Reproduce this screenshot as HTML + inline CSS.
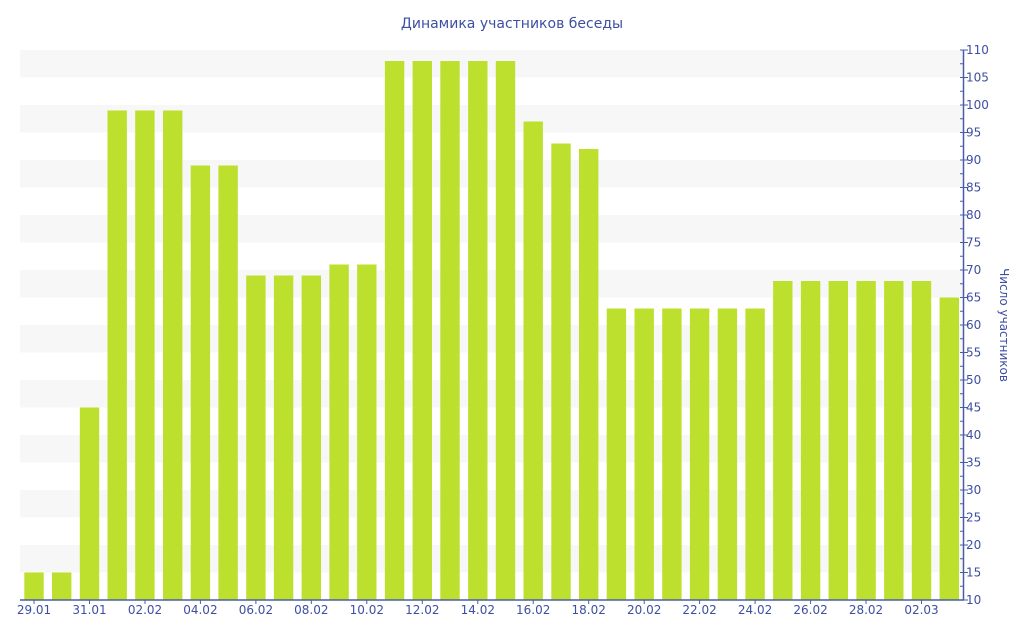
<!DOCTYPE html>
<html><head><meta charset="utf-8"><style>
body{margin:0;background:#fff}
svg{display:block;font-family:"DejaVu Sans","Liberation Sans",sans-serif}
</style></head><body>
<svg width="1024" height="640" viewBox="0 0 1024 640" xmlns="http://www.w3.org/2000/svg">
<text x="512" y="28" text-anchor="middle" font-size="14" fill="#3d4fa3">Динамика участников беседы</text>
<g fill="#f7f7f7">
<rect x="20" y="50" width="943" height="27.5"/>
<rect x="20" y="105" width="943" height="27.5"/>
<rect x="20" y="160" width="943" height="27.5"/>
<rect x="20" y="215" width="943" height="27.5"/>
<rect x="20" y="270" width="943" height="27.5"/>
<rect x="20" y="325" width="943" height="27.5"/>
<rect x="20" y="380" width="943" height="27.5"/>
<rect x="20" y="435" width="943" height="27.5"/>
<rect x="20" y="490" width="943" height="27.5"/>
<rect x="20" y="545" width="943" height="27.5"/>
</g>
<g fill="#bde02e">
<rect x="24.3" y="572.5" width="19.4" height="27.5"/>
<rect x="52.0" y="572.5" width="19.4" height="27.5"/>
<rect x="79.8" y="407.5" width="19.4" height="192.5"/>
<rect x="107.5" y="110.5" width="19.4" height="489.5"/>
<rect x="135.2" y="110.5" width="19.4" height="489.5"/>
<rect x="163.0" y="110.5" width="19.4" height="489.5"/>
<rect x="190.7" y="165.5" width="19.4" height="434.5"/>
<rect x="218.4" y="165.5" width="19.4" height="434.5"/>
<rect x="246.2" y="275.5" width="19.4" height="324.5"/>
<rect x="273.9" y="275.5" width="19.4" height="324.5"/>
<rect x="301.6" y="275.5" width="19.4" height="324.5"/>
<rect x="329.4" y="264.5" width="19.4" height="335.5"/>
<rect x="357.1" y="264.5" width="19.4" height="335.5"/>
<rect x="384.9" y="61" width="19.4" height="539"/>
<rect x="412.6" y="61" width="19.4" height="539"/>
<rect x="440.3" y="61" width="19.4" height="539"/>
<rect x="468.1" y="61" width="19.4" height="539"/>
<rect x="495.8" y="61" width="19.4" height="539"/>
<rect x="523.5" y="121.5" width="19.4" height="478.5"/>
<rect x="551.3" y="143.5" width="19.4" height="456.5"/>
<rect x="579.0" y="149" width="19.4" height="451"/>
<rect x="606.7" y="308.5" width="19.4" height="291.5"/>
<rect x="634.5" y="308.5" width="19.4" height="291.5"/>
<rect x="662.2" y="308.5" width="19.4" height="291.5"/>
<rect x="689.9" y="308.5" width="19.4" height="291.5"/>
<rect x="717.7" y="308.5" width="19.4" height="291.5"/>
<rect x="745.4" y="308.5" width="19.4" height="291.5"/>
<rect x="773.1" y="281" width="19.4" height="319"/>
<rect x="800.9" y="281" width="19.4" height="319"/>
<rect x="828.6" y="281" width="19.4" height="319"/>
<rect x="856.4" y="281" width="19.4" height="319"/>
<rect x="884.1" y="281" width="19.4" height="319"/>
<rect x="911.8" y="281" width="19.4" height="319"/>
<rect x="939.6" y="297.5" width="19.4" height="302.5"/>
</g>
<g stroke="#4a5ca8" stroke-width="1.5">
<line x1="20" y1="600" x2="964" y2="600"/>
<line x1="963.5" y1="50" x2="963.5" y2="600"/>
</g>
<g stroke="#4a5ca8" stroke-width="1">
<path d="M960 50h8M960 77.5h8M960 105h8M960 132.5h8M960 160h8M960 187.5h8M960 215h8M960 242.5h8M960 270h8M960 297.5h8M960 325h8M960 352.5h8M960 380h8M960 407.5h8M960 435h8M960 462.5h8M960 490h8M960 517.5h8M960 545h8M960 572.5h8M960 600h8"/>
<path d="M960 63.75h4M960 91.25h4M960 118.75h4M960 146.25h4M960 173.75h4M960 201.25h4M960 228.75h4M960 256.25h4M960 283.75h4M960 311.25h4M960 338.75h4M960 366.25h4M960 393.75h4M960 421.25h4M960 448.75h4M960 476.25h4M960 503.75h4M960 531.25h4M960 558.75h4M960 586.25h4"/>
<path d="M34 600v4M89.5 600v4M145 600v4M200.4 600v4M255.9 600v4M311.3 600v4M366.8 600v4M422.3 600v4M477.8 600v4M533.2 600v4M588.7 600v4M644.2 600v4M699.6 600v4M755.1 600v4M810.6 600v4M866 600v4M921.5 600v4"/>
</g>
<g font-size="12" fill="#3d4fa3">
<text x="966" y="54">110</text><text x="966" y="81.5">105</text><text x="966" y="109">100</text>
<text x="966" y="136.5">95</text><text x="966" y="164">90</text><text x="966" y="191.5">85</text>
<text x="966" y="219">80</text><text x="966" y="246.5">75</text><text x="966" y="274">70</text>
<text x="966" y="301.5">65</text><text x="966" y="329">60</text><text x="966" y="356.5">55</text>
<text x="966" y="384">50</text><text x="966" y="411.5">45</text><text x="966" y="439">40</text>
<text x="966" y="466.5">35</text><text x="966" y="494">30</text><text x="966" y="521.5">25</text>
<text x="966" y="549">20</text><text x="966" y="576.5">15</text><text x="966" y="604">10</text>
</g>
<g font-size="12" fill="#3d4fa3" text-anchor="middle">
<text x="34" y="614">29.01</text><text x="89.5" y="614">31.01</text><text x="145" y="614">02.02</text>
<text x="200.4" y="614">04.02</text><text x="255.9" y="614">06.02</text><text x="311.3" y="614">08.02</text>
<text x="366.8" y="614">10.02</text><text x="422.3" y="614">12.02</text><text x="477.8" y="614">14.02</text>
<text x="533.2" y="614">16.02</text><text x="588.7" y="614">18.02</text><text x="644.2" y="614">20.02</text>
<text x="699.6" y="614">22.02</text><text x="755.1" y="614">24.02</text><text x="810.6" y="614">26.02</text>
<text x="866" y="614">28.02</text><text x="921.5" y="614">02.03</text>
</g>
<text transform="translate(1000,325) rotate(90)" text-anchor="middle" font-size="12" fill="#3d4fa3">Число участников</text>
</svg>
</body></html>
